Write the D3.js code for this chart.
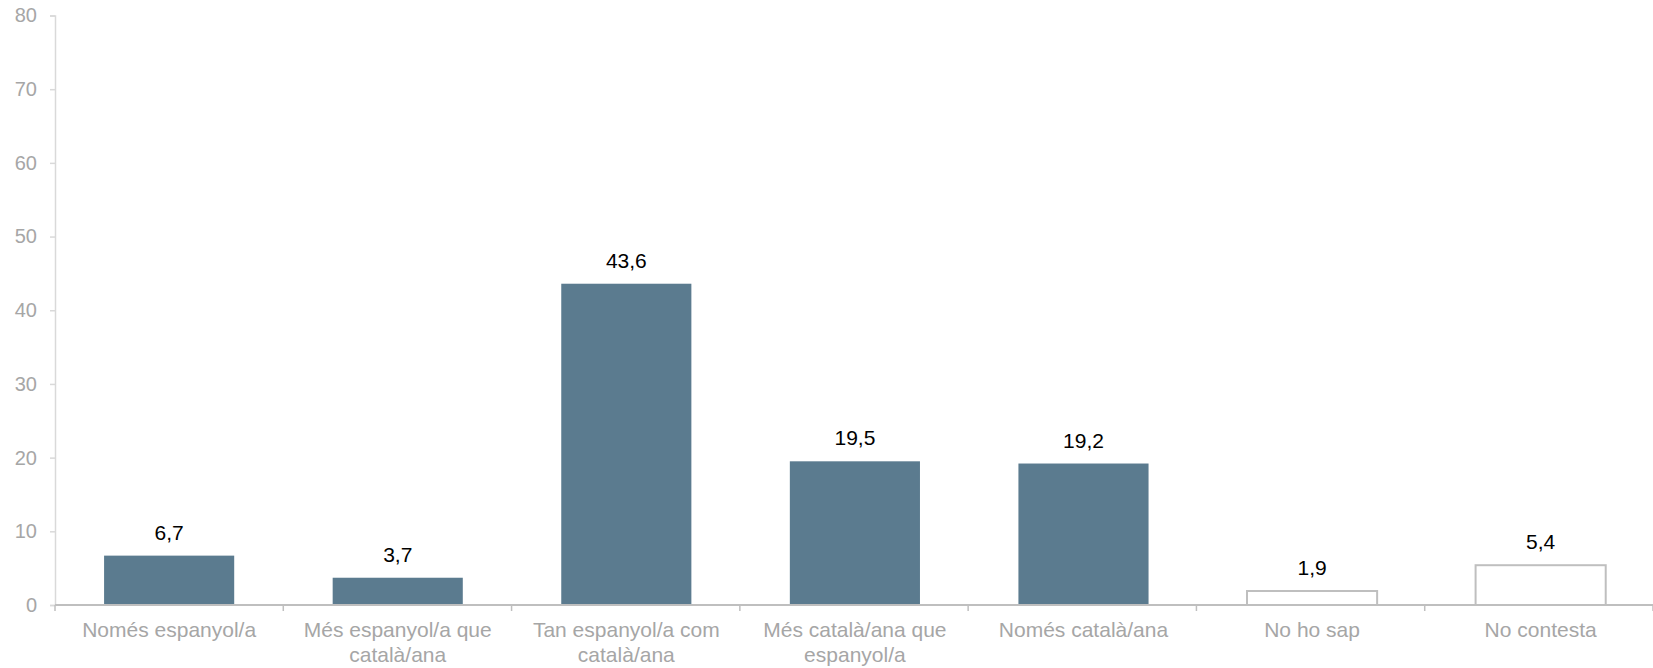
<!DOCTYPE html>
<html><head><meta charset="utf-8">
<script src="https://cdn.jsdelivr.net/npm/d3@7"></script>
<style>body{margin:0;background:#fff}svg{display:block}</style>
</head><body>
<svg id="c" width="1653" height="668"></svg>
<script>
const categories = [
  ["Només espanyol/a"],
  ["Més espanyol/a que", "català/ana"],
  ["Tan espanyol/a com", "català/ana"],
  ["Més català/ana que", "espanyol/a"],
  ["Només català/ana"],
  ["No ho sap"],
  ["No contesta"]
];
const values = [6.7, 3.7, 43.6, 19.5, 19.2, 1.9, 5.4];
const outlined = [false, false, false, false, false, true, true];
const yTicks = [0, 10, 20, 30, 40, 50, 60, 70, 80];

const svg = d3.select("#c");
const W = 1653, H = 668;
const m = {left: 55, right: 0, top: 15.5, bottom: 63};
const font = "'Liberation Sans', Arial, sans-serif";

const x = d3.scaleBand().domain(d3.range(categories.length))
  .range([m.left, W - m.right]).paddingInner(0.43).paddingOuter(0.215);
const y = d3.scaleLinear().domain([0, 80]).range([H - m.bottom, m.top]);

// Y axis
const ya = svg.append("g").attr("transform", `translate(${m.left},0)`)
  .call(d3.axisLeft(y).tickValues(yTicks).tickSize(5).tickPadding(13).tickFormat(d3.format("d")));
ya.select(".domain").attr("stroke", "#d9d9d9").attr("stroke-width", 1.5);
ya.selectAll(".tick line").attr("stroke", "#d9d9d9").attr("stroke-width", 1.5);
ya.selectAll("text").attr("fill", "#a6a6a6").attr("font-size", 20).attr("font-family", font);

// Bars
svg.append("g").selectAll("rect").data(values).join("rect")
  .attr("x", (d, i) => x(i) + 0.3 * i)
  .attr("y", d => y(d))
  .attr("width", x.bandwidth())
  .attr("height", d => y(0) - y(d))
  .attr("fill", (d, i) => outlined[i] ? "#ffffff" : "#5b7b8f")
  .attr("stroke", (d, i) => outlined[i] ? "#bfbfbf" : "none")
  .attr("stroke-width", 2);

// X axis
const xa = svg.append("g").attr("transform", `translate(0,${y(0)})`);
xa.append("line").attr("x1", m.left).attr("x2", W).attr("stroke", "#bfbfbf").attr("stroke-width", 2);
const tickXs = d3.range(categories.length + 1).map(k => m.left + k * (W - m.left) / categories.length);
xa.selectAll("line.t").data(tickXs).join("line").attr("class", "t")
  .attr("x1", d => d).attr("x2", d => d).attr("y1", 0).attr("y2", 6)
  .attr("stroke", "#bfbfbf").attr("stroke-width", 1.5);

// Category labels
const lab = svg.append("g").selectAll("text").data(categories).join("text")
  .attr("x", (d, i) => x(i) + 0.3 * i + x.bandwidth() / 2)
  .attr("y", y(0) + 32)
  .attr("text-anchor", "middle").attr("fill", "#a6a6a6")
  .attr("font-size", 21).attr("font-family", font);
lab.selectAll("tspan").data(d => d).join("tspan")
  .attr("x", function() { return this.parentNode.getAttribute("x"); })
  .attr("dy", (d, i) => i === 0 ? 0 : 24.5)
  .text(d => d);

// Value labels
svg.append("g").selectAll("text").data(values).join("text")
  .attr("x", (d, i) => x(i) + 0.3 * i + x.bandwidth() / 2)
  .attr("y", d => y(d) - 16)
  .attr("text-anchor", "middle").attr("fill", "#000")
  .attr("font-size", 21).attr("font-family", font)
  .text(d => d3.format(".1f")(d).replace(".", ","));
</script>
</body></html>
